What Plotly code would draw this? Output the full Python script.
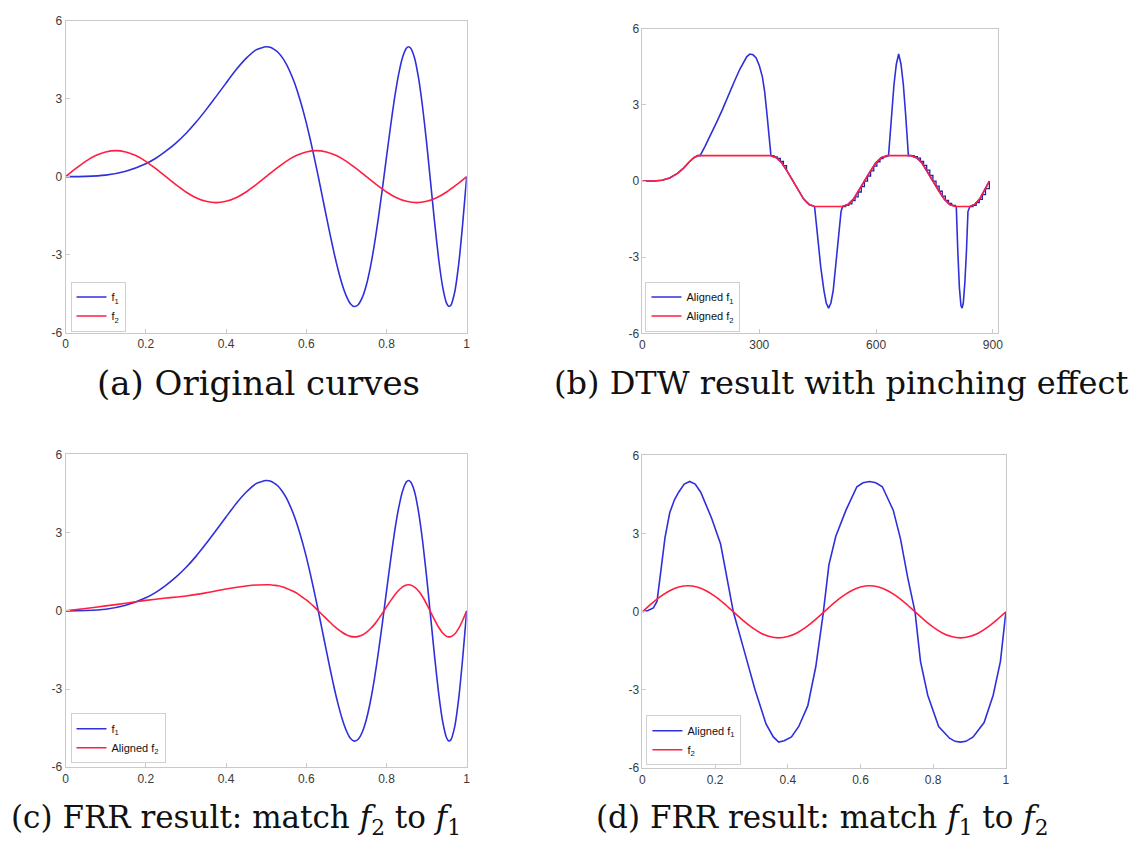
import plotly.graph_objects as go

# ---------------- data ----------------
# panel (a)/(c): f1 curve
t_f1 = [0, 0.05, 0.1, 0.15, 0.2, 0.225, 0.25, 0.275, 0.3, 0.325, 0.35, 0.375, 0.4, 0.425, 0.45, 0.475, 0.5,
        0.51, 0.52, 0.53, 0.54, 0.55, 0.56, 0.57, 0.58, 0.59, 0.60, 0.61, 0.62, 0.63, 0.64, 0.65, 0.66, 0.67,
        0.68, 0.69, 0.70, 0.71, 0.72, 0.73, 0.74, 0.75, 0.76, 0.77, 0.78, 0.79, 0.80, 0.81, 0.82, 0.83, 0.84,
        0.85, 0.855, 0.86, 0.87, 0.88, 0.89, 0.90, 0.91, 0.92, 0.93, 0.94, 0.95, 0.955, 0.96, 0.97, 0.98, 0.99, 1.0]
f1_vals = [0, 0.01, 0.06, 0.21, 0.50, 0.71, 0.98, 1.29, 1.66, 2.09, 2.57, 3.08, 3.60, 4.11, 4.55, 4.88, 5.00,
           4.98, 4.90, 4.78, 4.59, 4.34, 4.02, 3.64, 3.18, 2.66, 2.08, 1.43, 0.73, 0.00, -0.76, -1.52, -2.27, -2.98,
           -3.62, -4.17, -4.60, -4.89, -5.00, -4.92, -4.64, -4.16, -3.47, -2.60, -1.57, -0.44, 0.75, 1.92, 3.01, 3.92, 4.59,
           4.95, 5.00, 4.95, 4.57, 3.79, 2.68, 1.31, -0.22, -1.76, -3.16, -4.24, -4.88, -4.99, -4.96, -4.45, -3.37, -1.81, 0.00]

# f2 curve (panels a and d)
t_f2 = [0, 0.025, 0.05, 0.075, 0.1, 0.125, 0.15, 0.175, 0.2, 0.225, 0.25, 0.275, 0.3, 0.325, 0.35, 0.375, 0.4,
        0.425, 0.45, 0.475, 0.5, 0.525, 0.55, 0.575, 0.6, 0.625, 0.65, 0.675, 0.7, 0.725, 0.75, 0.775, 0.8,
        0.825, 0.85, 0.875, 0.9, 0.925, 0.95, 0.975, 1.0]
f2_vals = [0, 0.31, 0.59, 0.81, 0.95, 1.0, 0.95, 0.81, 0.59, 0.31, 0, -0.31, -0.59, -0.81, -0.95, -1.0, -0.95,
           -0.81, -0.59, -0.31, 0, 0.31, 0.59, 0.81, 0.95, 1.0, 0.95, 0.81, 0.59, 0.31, 0, -0.31, -0.59,
           -0.81, -0.95, -1.0, -0.95, -0.81, -0.59, -0.31, 0]

# panel (c): aligned f2
t_c2 = [0, 0.05, 0.1, 0.15, 0.2, 0.25, 0.3, 0.35, 0.4, 0.45, 0.475, 0.5,
        0.51, 0.52, 0.53, 0.54, 0.55, 0.56, 0.57, 0.58, 0.59, 0.60, 0.61, 0.62, 0.63, 0.64, 0.65, 0.66, 0.67,
        0.68, 0.69, 0.70, 0.71, 0.72, 0.73, 0.74, 0.75, 0.76, 0.77, 0.78, 0.79, 0.80, 0.81, 0.82, 0.83, 0.84,
        0.85, 0.855, 0.86, 0.87, 0.88, 0.89, 0.90, 0.91, 0.92, 0.93, 0.94, 0.95, 0.955, 0.96, 0.97, 0.98, 0.99, 1.0]
c2_vals = [0, 0.09, 0.19, 0.29, 0.40, 0.49, 0.57, 0.69, 0.84, 0.95, 0.99, 1.0,
           1.0, 0.98, 0.96, 0.92, 0.87, 0.80, 0.73, 0.64, 0.53, 0.42, 0.29, 0.15, 0.0, -0.15, -0.30, -0.45, -0.60,
           -0.72, -0.83, -0.92, -0.98, -1.0, -0.98, -0.93, -0.83, -0.69, -0.52, -0.31, -0.09, 0.15, 0.38, 0.60, 0.78, 0.92,
           0.99, 1.0, 0.99, 0.91, 0.76, 0.54, 0.26, -0.04, -0.35, -0.63, -0.85, -0.98, -1.0, -0.99, -0.89, -0.67, -0.36, 0]

# panel (d): aligned f1
t_d1 = [0, 0.015, 0.03, 0.04, 0.05, 0.062, 0.075, 0.088, 0.1, 0.115, 0.13, 0.145, 0.16, 0.19, 0.215, 0.25,
        0.28, 0.31, 0.34, 0.36, 0.375, 0.39, 0.41, 0.43, 0.455, 0.477, 0.497, 0.513, 0.532, 0.56, 0.59, 0.607,
        0.625, 0.642, 0.66, 0.69, 0.71, 0.73, 0.75, 0.765, 0.785, 0.815, 0.845, 0.86, 0.875, 0.89, 0.91, 0.94,
        0.965, 0.985, 1.0]
d1_vals = [0, 0.05, 0.15, 0.4, 1.5, 2.85, 3.8, 4.3, 4.6, 4.9, 5.0, 4.9, 4.6, 3.6, 2.6, 0.0,
           -1.5, -3.0, -4.3, -4.8, -5.0, -4.95, -4.8, -4.4, -3.6, -2.1, -0.1, 1.8, 2.9, 3.9, 4.8, 4.95,
           5.0, 4.95, 4.8, 3.9, 2.8, 1.3, 0.0, -1.9, -3.2, -4.4, -4.85, -4.97, -5.0, -4.97, -4.8, -4.25,
           -3.2, -1.9, 0]

# panel (b): DTW aligned curves (sample index)
idx_b2 = [0, 30, 50, 70, 90, 105, 120, 132, 142, 330, 344, 358, 372, 386, 400, 414, 428, 442,
          514, 528, 542, 556, 570, 585, 599, 613, 627, 690, 704, 718, 732, 746, 761, 775, 789, 803,
          841, 853, 866, 878, 891]
b2_vals = [0, 0, 0.03, 0.12, 0.3, 0.5, 0.75, 0.92, 1.0, 1.0, 0.92, 0.71, 0.38, 0, -0.38, -0.71, -0.92, -1.0,
           -1.0, -0.92, -0.71, -0.38, 0, 0.38, 0.71, 0.92, 1.0, 1.0, 0.92, 0.71, 0.38, 0, -0.38, -0.71, -0.92, -1.0,
           -1.0, -0.92, -0.71, -0.38, 0]

idx_b1 = [0, 30, 50, 70, 90, 105, 120, 132, 142, 148, 160, 174, 190, 205, 221, 237, 250, 260, 268, 276, 284,
          292, 300, 308, 314, 320, 325, 330, 344, 358, 372, 386, 400, 414, 428, 442,
          450, 458, 466, 472, 478, 484, 490, 497, 504, 510, 514,
          528, 542, 556, 570, 585, 599, 613, 627, 632, 640, 646, 652, 658, 664, 670, 676, 683, 690,
          704, 718, 732, 746, 761, 775, 789, 803, 806, 810, 814, 818, 821, 824, 828, 832, 836, 841,
          853, 866, 878, 891]
b1_vals = [0, 0, 0.03, 0.12, 0.3, 0.5, 0.75, 0.92, 1.0, 1.0, 1.35, 1.78, 2.3, 2.8, 3.4, 3.96, 4.4, 4.7, 4.9, 5.0, 4.97,
           4.85, 4.55, 4.1, 3.5, 2.6, 1.8, 1.0, 0.92, 0.71, 0.38, 0, -0.38, -0.71, -0.92, -1.0,
           -2.2, -3.4, -4.3, -4.8, -5.0, -4.8, -4.3, -3.3, -2.1, -1.2, -1.0,
           -0.92, -0.71, -0.38, 0, 0.38, 0.71, 0.92, 1.0, 1.0, 2.6, 3.8, 4.6, 5.0, 4.6, 3.8, 2.6, 1.0, 1.0,
           0.92, 0.71, 0.38, 0, -0.38, -0.71, -0.92, -1.0, -1.0, -2.8, -4.2, -4.9, -5.0, -4.8, -4.0, -2.8, -1.2, -1.0,
           -0.92, -0.71, -0.38, 0]

# DTW staircase steps of aligned f1 along the sloped parts
stair_x = [[330, 338, 346, 354, 362, 370],
           [514, 522, 530, 538, 546, 554, 562, 570, 578, 586, 594, 602, 610, 618, 627],
           [690, 698, 706, 714, 722, 730, 738, 746, 754, 762, 770, 778, 786, 794, 803],
           [841, 849, 857, 865, 873, 881, 891]]
stair_v = [[1, 0.95, 0.89, 0.77, 0.61, 0.43],
           [-1, -0.96, -0.9, -0.77, -0.62, -0.43, -0.22, 0, 0.2, 0.4, 0.59, 0.76, 0.88, 0.96, 1.0],
           [1, 0.96, 0.9, 0.77, 0.62, 0.43, 0.22, 0, -0.2, -0.4, -0.59, -0.76, -0.88, -0.96, -1.0],
           [-1, -0.96, -0.85, -0.72, -0.53, -0.3, 0]]

x_ticks_unit = [0, 0.2, 0.4, 0.6, 0.8, 1]
x_tick_text_unit = ["0", "0.2", "0.4", "0.6", "0.8", "1"]
x_ticks_b = [0, 300, 600, 900]
x_tick_text_b = ["0", "300", "600", "900"]
y_ticks = [-6, -3, 0, 3, 6]
y_tick_text = ["-6", "-3", "0", "3", "6"]
captions = ["(a) Original curves", "(b) DTW result with pinching effect",
            "(c) FRR result: match <i>f</i><sub>2</sub> to <i>f</i><sub>1</sub>",
            "(d) FRR result: match <i>f</i><sub>1</sub> to <i>f</i><sub>2</sub>"]

# ---------------- styles ----------------
BLUE = "#2f2fdc"
RED = "#ff1f40"
W = 1136
H = 845

fig = go.Figure()

def add(x, y, color, name, xa, ya, legend, shape="spline", show=True, width=1.6):
    fig.add_trace(go.Scatter(x=x, y=y, mode="lines", name=name, showlegend=show,
                             line=dict(color=color, width=width, shape=shape,
                                       smoothing=0.6 if shape == "spline" else None),
                             xaxis=xa, yaxis=ya, legend=legend))

add(t_f1, f1_vals, BLUE, "f<sub>1</sub>", "x", "y", "legend")
add(t_f2, f2_vals, RED, "f<sub>2</sub>", "x", "y", "legend")
add(idx_b1, b1_vals, BLUE, "Aligned f<sub>1</sub>", "x2", "y2", "legend2", shape="linear")
for sx, sv in zip(stair_x, stair_v):
    add(sx, sv, "#2222a8", "steps", "x2", "y2", "legend2", shape="hv", show=False, width=1.3)
add(idx_b2, b2_vals, RED, "Aligned f<sub>2</sub>", "x2", "y2", "legend2", shape="linear")
add(t_f1, f1_vals, BLUE, "f<sub>1</sub>", "x3", "y3", "legend3")
add(t_c2, c2_vals, RED, "Aligned f<sub>2</sub>", "x3", "y3", "legend3")
add(t_d1, d1_vals, BLUE, "Aligned f<sub>1</sub>", "x4", "y4", "legend4", shape="linear")
add(t_f2, f2_vals, RED, "f<sub>2</sub>", "x4", "y4", "legend4")

def px_dom_x(a, b):
    return [a / W, b / W]

def px_dom_y(top, bottom):
    return [1 - bottom / H, 1 - top / H]

axis_common = dict(showline=True, linecolor="#c9c9c9", linewidth=1, mirror=True,
                   ticks="inside", ticklen=4, tickcolor="#c9c9c9", showgrid=False, zeroline=False,
                   tickfont=dict(family="Liberation Sans, Arial, sans-serif", size=12, color="#3a3a3a"))

layout = dict(
    width=W, height=H, margin=dict(l=0, r=0, t=0, b=0),
    paper_bgcolor="white", plot_bgcolor="white",
    xaxis=dict(domain=px_dom_x(63, 467), range=[0, 1], tickvals=x_ticks_unit, ticktext=x_tick_text_unit, anchor="y", **axis_common),
    yaxis=dict(domain=px_dom_y(14, 331), range=[-6, 6], tickvals=y_ticks, ticktext=y_tick_text, anchor="x", **axis_common),
    xaxis2=dict(domain=px_dom_x(644, 1002), range=[0, 913], tickvals=x_ticks_b, ticktext=x_tick_text_b, anchor="y2", **axis_common),
    yaxis2=dict(domain=px_dom_y(22, 332), range=[-6, 6], tickvals=y_ticks, ticktext=y_tick_text, anchor="x2", **axis_common),
    xaxis3=dict(domain=px_dom_x(63, 467), range=[0, 1], tickvals=x_ticks_unit, ticktext=x_tick_text_unit, anchor="y3", **axis_common),
    yaxis3=dict(domain=px_dom_y(455, 773), range=[-6, 6], tickvals=y_ticks, ticktext=y_tick_text, anchor="x3", **axis_common),
    xaxis4=dict(domain=px_dom_x(644, 1010), range=[0, 1], tickvals=x_ticks_unit, ticktext=x_tick_text_unit, anchor="y4", **axis_common),
    yaxis4=dict(domain=px_dom_y(456, 774), range=[-6, 6], tickvals=y_ticks, ticktext=y_tick_text, anchor="x4", **axis_common),
    showlegend=True,
)

leg_common = dict(xanchor="left", yanchor="bottom", bgcolor="white", bordercolor="#d0d0d0", borderwidth=1,
                  font=dict(family="Liberation Sans, Arial, sans-serif", size=11, color="#111"),
                  tracegroupgap=0, itemwidth=30)
layout["legend"] = dict(x=68 / W, y=1 - 330 / H, **leg_common)
layout["legend2"] = dict(x=647 / W, y=1 - 330 / H, **leg_common)
layout["legend3"] = dict(x=68 / W, y=1 - 769 / H, **leg_common)
layout["legend4"] = dict(x=648 / W, y=1 - 771 / H, **leg_common)

fig.update_layout(**layout)

def cap_font(size):
    return dict(family="DejaVu Serif, serif", size=size, color="#111")

fig.add_annotation(text=captions[0], x=257 / W, y=1 - 382 / H, xref="paper", yref="paper",
                   xanchor="center", yanchor="middle", showarrow=False, font=cap_font(34))
fig.add_annotation(text=captions[1], x=553 / W, y=1 - 382 / H, xref="paper", yref="paper",
                   xanchor="left", yanchor="middle", showarrow=False, font=cap_font(32))
fig.add_annotation(text=captions[2], x=6 / W, y=1 - 826 / H, xref="paper", yref="paper",
                   xanchor="left", yanchor="middle", showarrow=False, font=cap_font(31))
fig.add_annotation(text=captions[3], x=595 / W, y=1 - 826 / H, xref="paper", yref="paper",
                   xanchor="left", yanchor="middle", showarrow=False, font=cap_font(31))

fig.write_html("out.html")
